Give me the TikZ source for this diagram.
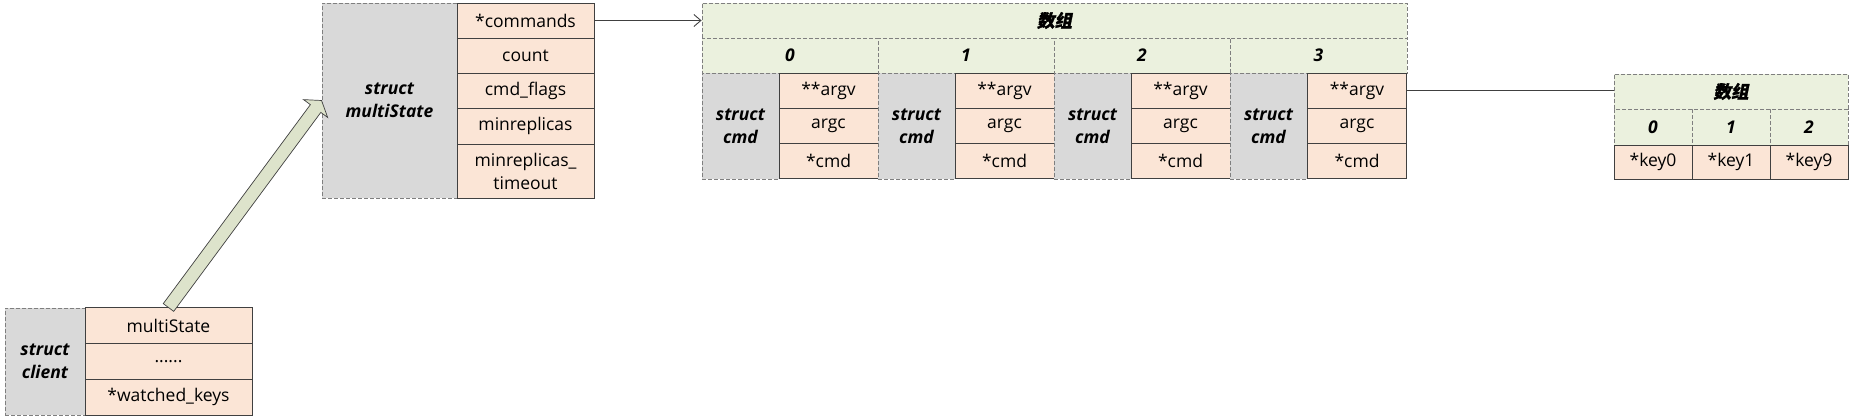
\documentclass[tikz,border=0pt]{standalone}
\usepackage{fontspec}
\setmainfont{Open Sans}
\newfontfamily\cjk[FakeSlant=0.2,FakeBold=1.5]{Noto Sans CJK SC}
\usetikzlibrary{calc,arrows.meta}
\definecolor{fieldfill}{HTML}{FBE5D6}
\definecolor{grayfill}{HTML}{D9D9D9}
\definecolor{headfill}{HTML}{EBF1DE}
\definecolor{arrowfill}{HTML}{DDE3CB}
\definecolor{dashgray}{HTML}{7F7F7F}
\definecolor{linegray}{HTML}{404040}
\newcommand\diagfont{\fontsize{17.5}{23}\selectfont}

\tikzset{
  sz/.style 2 args={minimum width=#1, minimum height=#2},
  fld/.style={draw=linegray, fill=fieldfill, inner sep=0pt, line width=0.9pt},
  graybox/.style={draw=dashgray, dash pattern=on 4pt off 2pt, fill=grayfill,
    inner sep=0pt, line width=0.9pt, align=center,
    font=\diagfont\bfseries\itshape},
  headbox/.style={draw=dashgray, dash pattern=on 4pt off 2pt, fill=headfill,
    inner sep=0pt, line width=0.9pt, font=\diagfont\bfseries\itshape},
}

\begin{document}
\begin{tikzpicture}[x=1pt,y=-1pt,font=\diagfont]
    \useasboundingbox (0,0) rectangle (1853,419);

    % struct client
    \node[graybox, sz={80}{107}] (cl) at (45,361.5) {struct\\client};
    \node[fld, sz={167}{35.7}] (cl1) at (168.5,325.8) {multiState};
    \node[fld, sz={167}{35.7}] (cl2) at (168.5,361.5) {......};
    \node[fld, sz={167}{35.7}] (cl3) at (168.5,397.2) {*watched\_keys};

    % struct multiState
    \node[graybox, sz={135}{195}] (ms) at (389.5,100.5) {struct\\multiState};
    \node[fld, sz={137}{35}] (ms1) at (525.5,20.5) {*commands};
    \node[fld, sz={137}{35}] (ms2) at (525.5,55.5) {count};
    \node[fld, sz={137}{35}] (ms3) at (525.5,90.5) {cmd\_flags};
    \node[fld, sz={137}{36}] (ms4) at (525.5,126) {minreplicas};
    \node[fld, sz={137}{54}, align=center] (ms5) at (525.5,171) {minreplicas\_\\timeout};

    % commands array
    \node[headbox, sz={705}{35}] (arr) at (1054.5,20.5) {\cjk 数组};
    \node[headbox, sz={176}{35}] (i0) at (790,55.5) {0};
    \node[headbox, sz={176}{35}] (i1) at (966,55.5) {1};
    \node[headbox, sz={176}{35}] (i2) at (1142,55.5) {2};
    \node[headbox, sz={177}{35}] (i3) at (1318.5,55.5) {3};

    \node[graybox, sz={77}{106}] (c0) at (740.5,126) {struct\\cmd};
    \node[fld, sz={99}{35.3}] (c0a) at (828.5,90.7) {**argv};
    \node[fld, sz={99}{35.3}] (c0b) at (828.5,126) {argc};
    \node[fld, sz={99}{35.3}] (c0c) at (828.5,161.3) {*cmd};

    \node[graybox, sz={77}{106}] (c1) at (916.5,126) {struct\\cmd};
    \node[fld, sz={99}{35.3}] (c1a) at (1004.5,90.7) {**argv};
    \node[fld, sz={99}{35.3}] (c1b) at (1004.5,126) {argc};
    \node[fld, sz={99}{35.3}] (c1c) at (1004.5,161.3) {*cmd};

    \node[graybox, sz={77}{106}] (c2) at (1092.5,126) {struct\\cmd};
    \node[fld, sz={99}{35.3}] (c2a) at (1180.5,90.7) {**argv};
    \node[fld, sz={99}{35.3}] (c2b) at (1180.5,126) {argc};
    \node[fld, sz={99}{35.3}] (c2c) at (1180.5,161.3) {*cmd};

    \node[graybox, sz={77}{106}] (c3) at (1268.5,126) {struct\\cmd};
    \node[fld, sz={99}{35.3}] (c3a) at (1357,90.7) {**argv};
    \node[fld, sz={99}{35.3}] (c3b) at (1357,126) {argc};
    \node[fld, sz={99}{35.3}] (c3c) at (1357,161.3) {*cmd};

    % keys array
    \node[headbox, sz={234}{35}] (karr) at (1731,91.5) {\cjk 数组};
    \node[headbox, sz={78}{36}] (k0) at (1653,127) {0};
    \node[headbox, sz={78}{36}] (k1) at (1731,127) {1};
    \node[headbox, sz={78}{36}] (k2) at (1809,127) {2};
    \node[fld, sz={78}{34}] (kf0) at (1653,162) {*key0};
    \node[fld, sz={78}{34}] (kf1) at (1731,162) {*key1};
    \node[fld, sz={78}{34}] (kf2) at (1809,162) {*key9};

    % connectors
    \draw[linegray, line width=0.9pt, -{Straight Barb[length=7pt,width=12pt]}]
        (ms1.east) -- (arr.west);
    \draw[linegray, line width=0.9pt] (c3a.east) -- (c3a.east -| karr.west);

    % block arrow client -> multiState
    \coordinate (as) at (cl1.north);
    \coordinate (ae) at (ms.west);
    \coordinate (ah) at ($(ae)!10pt!(as)$);
    \draw[linegray, line width=0.7pt, fill=arrowfill, line join=miter]
        ($(as)!6.5pt!90:(ae)$) -- ($(ah)!6.5pt!90:(ae)$) -- ($(ah)!15pt!90:(ae)$)
        -- (ae) -- ($(ah)!15pt!-90:(ae)$) -- ($(ah)!6.5pt!-90:(ae)$)
        -- ($(as)!6.5pt!-90:(ae)$) -- cycle;
\end{tikzpicture}
\end{document}
